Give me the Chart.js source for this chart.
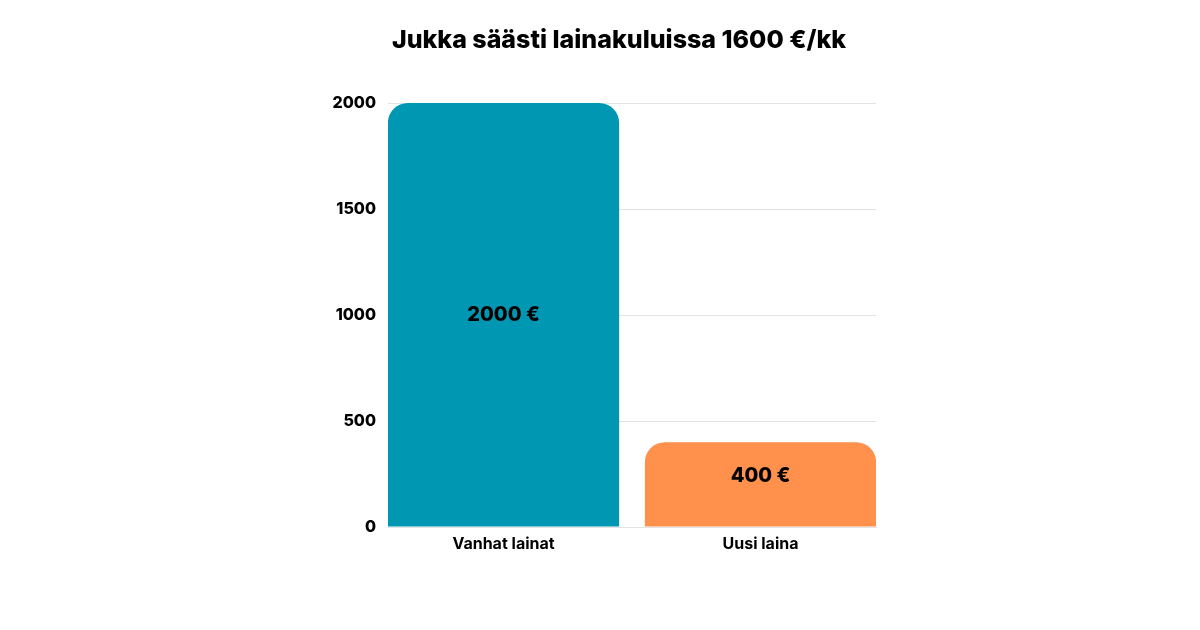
<!DOCTYPE html>
<html>
<head>
<meta charset="utf-8">
<script src="https://cdn.jsdelivr.net/npm/chart.js@4/dist/chart.umd.min.js"></script>
<style>
html,body{margin:0;padding:0;background:#fff;}
#wrap{width:1200px;height:630px;}
</style>
</head>
<body>
<div id="wrap"><canvas id="c" width="1200" height="630"></canvas></div>
<script>
const categories = ["Vanhat lainat", "Uusi laina"];
const values = [2000, 400];
const valueLabels = ["2000 €", "400 €"];
const barColors = ["#0097b2", "#ff914d"];
const yTicks = [0, 500, 1000, 1500, 2000];
const titleText = "Jukka säästi lainakuluissa 1600 €/kk";

const FONT = "Inter, 'Noto Sans', sans-serif";

// Category scale whose outer margins are slightly narrower than the default half-category offset
class EdgeCategoryScale extends Chart.CategoryScale {
  configure() {
    super.configure();
    const edge = this.options.edgeOffset;
    this._startValue = this.min - edge;
    this._valueRange = (this.max - this.min) + 2 * edge;
  }
}
EdgeCategoryScale.id = 'edgeCategory';
EdgeCategoryScale.defaults = Chart.CategoryScale.defaults;
Chart.register(EdgeCategoryScale);

const insideLabels = {
  id: 'insideLabels',
  afterDatasetsDraw(chart) {
    const ctx = chart.ctx;
    const meta = chart.getDatasetMeta(0);
    ctx.save();
    ctx.font = "800 20px " + FONT;
    ctx.fillStyle = "#000";
    ctx.textAlign = "center";
    ctx.textBaseline = "middle";
    meta.data.forEach((bar, i) => {
      const p = bar.getProps(['x', 'y', 'base'], true);
      let cy = (p.y + p.base) / 2;
      if (p.base - p.y < 120) cy -= 8;
      ctx.fillText(valueLabels[i], p.x, cy);
    });
    ctx.restore();
  }
};

new Chart(document.getElementById('c'), {
  type: 'bar',
  data: {
    labels: categories,
    datasets: [{
      data: values,
      backgroundColor: barColors,
      borderRadius: {topLeft: 20, topRight: 20, bottomLeft: 0, bottomRight: 0},
      borderSkipped: 'start',
      barPercentage: 0.9,
      categoryPercentage: 1.0
    }]
  },
  options: {
    responsive: false,
    animation: false,
    layout: {padding: {left: 332, right: 294, top: 25, bottom: 73}},
    plugins: {
      legend: {display: false},
      tooltip: {enabled: false},
      title: {
        display: true,
        text: titleText,
        color: "#000",
        font: {family: FONT, size: 25, weight: '800'},
        padding: {top: 0, bottom: 48}
      }
    },
    scales: {
      y: {
        min: 0, max: 2000,
        afterFit: s => { s.width = 56; },
        afterBuildTicks: s => { s.ticks = yTicks.map(v => ({value: v})); },
        border: {display: false},
        grid: {color: "#e3e3e3", lineWidth: 1, drawTicks: false},
        ticks: {
          padding: 12,
          color: "#000",
          callback: v => String(v),
          font: {family: FONT, size: 16, weight: '800'}
        }
      },
      yRight: {
        position: 'right',
        min: 0, max: 2000,
        afterFit: s => { s.width = 30; },
        border: {display: false},
        grid: {display: false},
        ticks: {display: false}
      },
      x: {
        type: 'edgeCategory',
        edgeOffset: 0.4495,
        afterFit: s => { s.height = 30; },
        border: {display: true, color: "#e3e3e3"},
        grid: {display: false, drawTicks: false, tickLength: 0},
        ticks: {
          padding: 8,
          color: "#000",
          font: {family: FONT, size: 16, weight: '700'}
        }
      }
    }
  },
  plugins: [insideLabels]
});
</script>
</body>
</html>
